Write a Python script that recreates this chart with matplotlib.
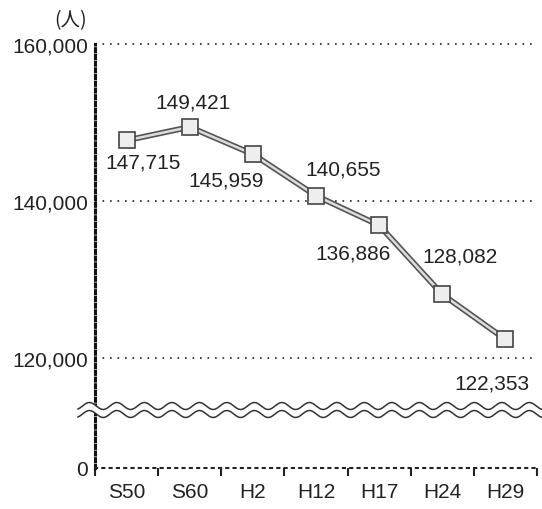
import numpy as np
import matplotlib
matplotlib.use("Agg")
import matplotlib.pyplot as plt

years = ["S50", "S60", "H2", "H12", "H17", "H24", "H29"]
population = [147715, 149421, 145959, 140655, 136886, 128082, 122353]
yticks = [0, 120000, 140000, 160000]

# where each value label sits relative to its point (pixels)
label_offsets = [(16, -22), (3, 25), (-27, -26), (27, 27), (-26, -28), (18, 38), (-13, -44)]

plt.rcParams['font.family'] = ['Liberation Sans', 'Noto Sans CJK JP', 'DejaVu Sans']

# broken axis: squeeze 0..120000 into a short band
low = 105950.0
def fwd(v):
    v = np.asarray(v, dtype=float)
    return np.where(v >= 120000, v, low + v * (120000 - low) / 120000)

def inv(u):
    u = np.asarray(u, dtype=float)
    return np.where(u >= 120000, u, (u - low) * 120000 / (120000 - low))

fig = plt.figure(figsize=(5.42, 5.10), dpi=100)
ax = fig.add_axes([95/542, 1-469/510, 442/542, 424/510])
ax.set_yscale('function', functions=(fwd, inv))
ax.set_xlim(-0.5, 6.5)
ax.set_ylim(0, 160000)

x = np.arange(len(years))
ax.plot(x, population, color='#555555', lw=4.2, solid_capstyle='round', zorder=3)
ax.plot(x, population, color='#dddddd', lw=1.8, zorder=4)
ax.plot(x, population, ls='none', marker='s', ms=11, mfc='#eeeeee', mec='#444444',
        mew=1.2, zorder=5)

for xi, val, (dx, dy) in zip(x, population, label_offsets):
    ax.annotate(f"{val:,}", (xi, val), xytext=(dx, dy), textcoords='offset pixels',
                ha='center', va='center', fontsize=15, color='#222222')

for g in yticks[1:]:
    ax.axhline(g, color='#222222', lw=1.2, ls=(0, (1, 3.5)), zorder=1, clip_on=False)

for s in ['top', 'right']:
    ax.spines[s].set_visible(False)
ax.spines['left'].set_linestyle((0, (1, 1.2)))
ax.spines['left'].set_linewidth(2.2)
ax.spines['left'].set_color('#111111')
ax.spines['bottom'].set_linestyle((0, (1, 2.5)))
ax.spines['bottom'].set_linewidth(1.5)
ax.spines['bottom'].set_color('#222222')

ax.set_yticks(yticks)
ax.set_yticklabels([f"{t:,}" for t in yticks])
ax.yaxis.set_minor_locator(matplotlib.ticker.NullLocator())
ax.tick_params(axis='y', length=0, pad=5, labelsize=15, labelcolor='#222222')

ax.set_xticks(np.arange(-0.5, 7, 1.0))
ax.set_xticklabels([])
ax.set_xticks(x, minor=True)
ax.set_xticklabels(years, minor=True)
ax.tick_params(axis='x', which='major', direction='out', length=6, width=1.5, color='#222222')
ax.tick_params(axis='x', which='minor', length=0, pad=10, labelsize=15, labelcolor='#222222')

# wavy break marks
wx = np.linspace(78/542, 1.0, 600)
ph = 2 * np.pi * (wx * 542) / 27.5
y1 = 1 - 407/510 + 3.5/510 * np.sin(ph)
y2 = 1 - 415/510 + 3.5/510 * np.sin(ph)
fig.patches.append(plt.Polygon(np.column_stack([np.r_[wx, wx[::-1]], np.r_[y1, y2[::-1]]]),
                               closed=True, transform=fig.transFigure, fc='white', ec='none', zorder=6))
fig.lines.append(plt.Line2D(wx, y1, transform=fig.transFigure, color='#333333', lw=1.1, zorder=7))
fig.lines.append(plt.Line2D(wx, y2, transform=fig.transFigure, color='#333333', lw=1.1, zorder=7))

fig.text(71/542, 1-21/510, "(人)", ha='center', va='center', fontsize=14,
         family=['Noto Sans CJK JP', 'DejaVu Sans'], color='#222222')

fig.savefig('out.png', dpi=100)
